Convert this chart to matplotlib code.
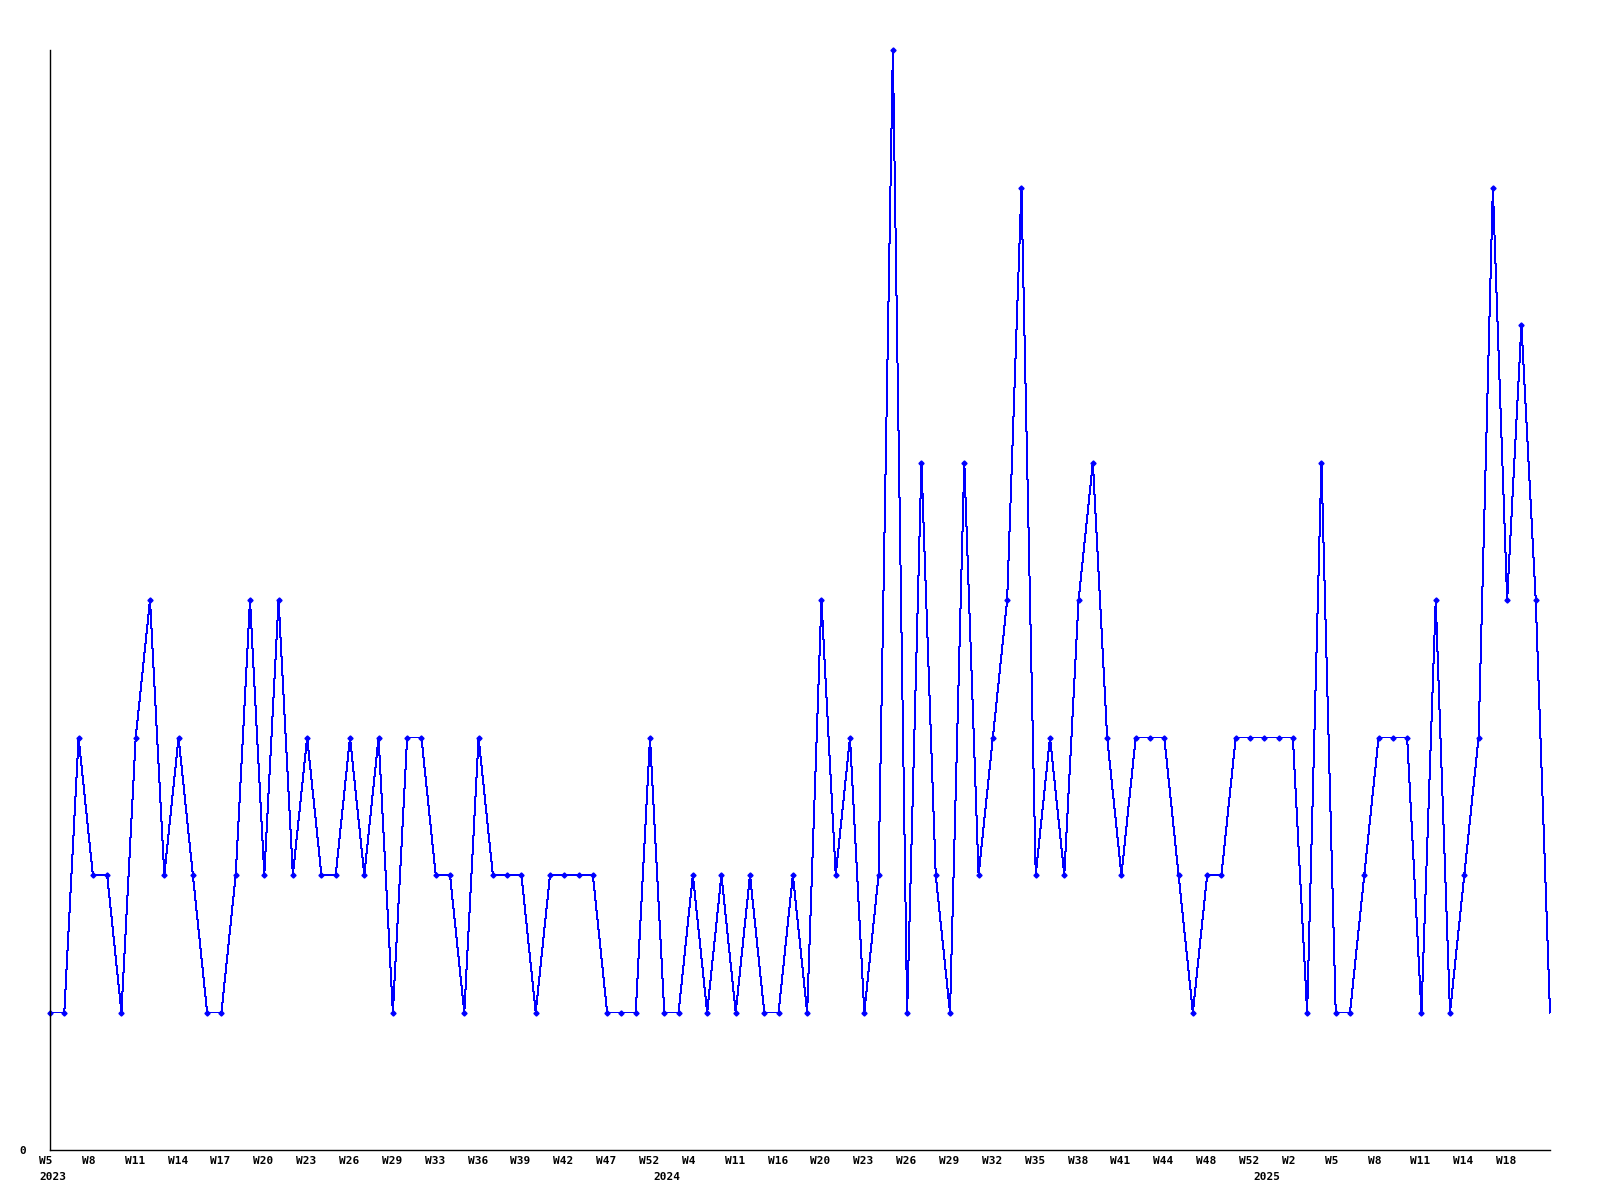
import matplotlib
matplotlib.use('Agg')
import matplotlib.pyplot as plt
import matplotlib.transforms as mtransforms

# weekly counts, one point per week that has data
values = [1, 1, 3, 2, 2, 1, 3, 4, 2, 3,
          2, 1, 1, 2, 4, 2, 4, 2, 3, 2,
          2, 3, 2, 3, 1, 3, 3, 2, 2, 1,
          3, 2, 2, 2, 1, 2, 2, 2, 2, 1,
          1, 1, 3, 1, 1, 2, 1, 2, 1, 2,
          1, 1, 2, 1, 4, 2, 3, 1, 2, 8,
          1, 5, 2, 1, 5, 2, 3, 4, 7, 2,
          3, 2, 4, 5, 3, 2, 3, 3, 3, 2,
          1, 2, 2, 3, 3, 3, 3, 3, 1, 5,
          1, 1, 2, 3, 3, 3, 1, 4, 1, 2,
          3, 7, 4, 6, 4, 1]

# labels shown on every third point
week_labels = ["W5", "W8", "W11", "W14", "W17", "W20", "W23", "W26", "W29",
               "W33", "W36", "W39", "W42", "W47", "W52", "W4", "W11", "W16",
               "W20", "W23", "W26", "W29", "W32", "W35", "W38", "W41", "W44",
               "W48", "W52", "W2", "W5", "W8", "W11", "W14", "W18"]
year_labels = ["2023", "2024", "2025"]
year_index = [0, 43, 85]

x = list(range(len(values)))
font = dict(family='DejaVu Sans Mono', weight='bold', size=8)

fig = plt.figure(figsize=(16, 12), dpi=100)
ax = fig.add_axes([50 / 1600, 50 / 1200, 1500 / 1600, 1100 / 1200])

ax.plot(x, values, color='#0000ff', linewidth=0.72, marker='D', markersize=2.6,
        markevery=list(range(len(values) - 1)), clip_on=False, antialiased=False)

ax.set_xlim(0, len(values) - 1)
ax.set_ylim(0, 8)
for side in ['top', 'right']:
    ax.spines[side].set_visible(False)
for side in ['left', 'bottom']:
    ax.spines[side].set_linewidth(1)
    ax.spines[side].set_color('black')

ax.set_yticks([0])
ax.set_yticklabels(['0'], fontdict=font)
ax.tick_params(axis='y', length=0, pad=17)

ax.set_xticks(x[:len(week_labels) * 3:3])
ax.set_xticklabels(week_labels, fontdict=font, ha='left')
ax.tick_params(axis='x', length=0, pad=4.5)
shift = mtransforms.ScaledTranslation(-11 / 100, 0, fig.dpi_scale_trans)
for lbl in ax.get_xticklabels():
    lbl.set_transform(lbl.get_transform() + shift)

trans = mtransforms.blended_transform_factory(ax.transData, ax.transAxes)
trans = trans + mtransforms.ScaledTranslation(-11 / 100, -22 / 100, fig.dpi_scale_trans)
for xi, yl in zip(year_index, year_labels):
    ax.text(xi, 0, yl, transform=trans, ha='left', va='top', **font)

fig.savefig('out.png', dpi=100, facecolor='white')
